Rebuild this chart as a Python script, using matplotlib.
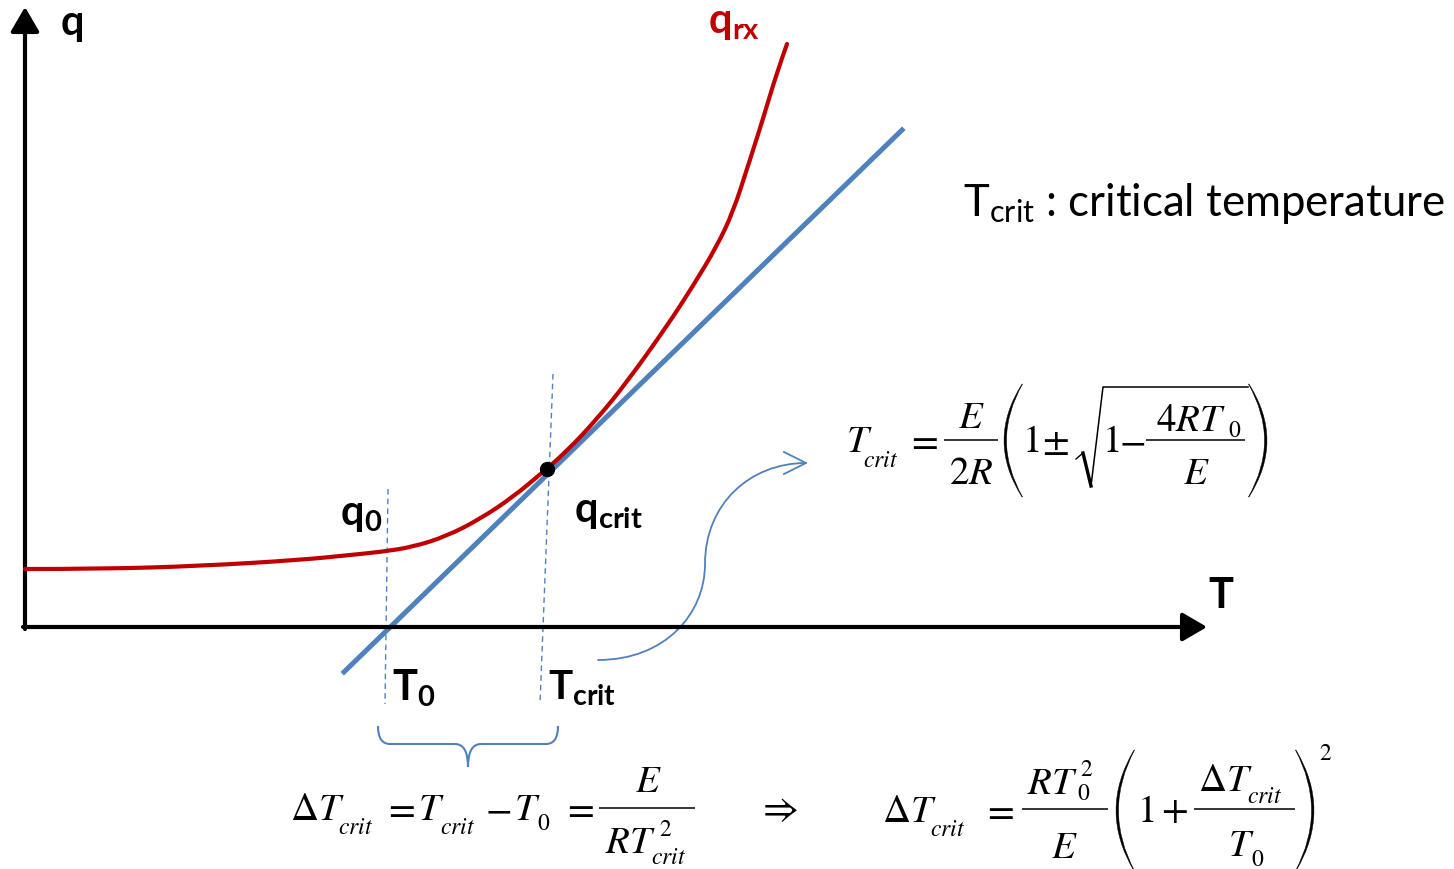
import numpy as np
import matplotlib.pyplot as plt
from matplotlib.path import Path
from matplotlib.patches import PathPatch, FancyArrowPatch

plt.rcParams['mathtext.fontset'] = 'custom'
plt.rcParams['mathtext.rm'] = 'Lato'
plt.rcParams['mathtext.it'] = 'Lato:italic'
plt.rcParams['mathtext.bf'] = 'Lato:bold'
plt.rcParams['font.family'] = 'Lato'

# heat generation curve q_rx(T), in drawing units (x right, y down)
red_T = [25, 100, 200, 300, 350, 380, 413, 447, 480, 513, 543, 567, 597,
         627, 667, 693, 717, 733, 747, 763, 777, 787]
red_q = [570, 570, 567, 561, 556, 553, 548, 537, 520, 498, 473, 452, 420,
         383, 327, 287, 247, 213, 170, 120, 73, 45]

# tangent (heat removal) line and critical point
tangent_T = [344, 902]
tangent_q = [673, 131]
crit_T, crit_q = 547, 470

# dashed guides at T0 and Tcrit
guide_T0 = ([388, 385], [490, 705])
guide_Tcrit = ([553, 540], [375, 705])

# axes extents
origin = (25, 628)
y_top = 8
x_right = 1207

RED = '#C00000'
BLUE = '#4F81BD'

fig = plt.figure(figsize=(14.54, 8.70), dpi=100)
ax = fig.add_axes([0, 0, 1, 1])
ax.set_xlim(0, 1454)
ax.set_ylim(870, 0)
ax.axis('off')


def smooth_path(xs, ys):
    # quadratic spline through the midpoints, using the points as controls
    pts = list(zip(xs, ys))
    verts = [pts[0]]
    codes = [Path.MOVETO]
    for i in range(1, len(pts) - 1):
        mid = ((pts[i][0] + pts[i + 1][0]) / 2, (pts[i][1] + pts[i + 1][1]) / 2)
        if i == len(pts) - 2:
            mid = pts[-1]
        verts += [pts[i], mid]
        codes += [Path.CURVE3, Path.CURVE3]
    return Path(verts, codes)


def tx(x, y, s, size=28, ha='left'):
    ax.text(x, y, '$' + s + '$', fontsize=size, math_fontfamily='stix',
            ha=ha, va='baseline', color='black')


def bar(x0, x1, y):
    ax.plot([x0, x1], [y, y], color='black', lw=1.1, solid_capstyle='butt')


def paren(x_end, x_mid, y0, y1, thick=2.2):
    # tall thin parenthesis as a filled crescent
    ym = (y0 + y1) / 2
    sgn = 1 if x_mid > x_end else -1
    c_out = x_end + 2 * (x_mid - x_end)
    c_in = c_out - sgn * 2 * thick
    verts = [(x_end, y0), (c_out, ym), (x_end, y1),
             (x_end - sgn * 0.6, y1), (c_in, ym), (x_end - sgn * 0.6, y0), (x_end, y0)]
    codes = [Path.MOVETO, Path.CURVE3, Path.CURVE3,
             Path.LINETO, Path.CURVE3, Path.CURVE3, Path.CLOSEPOLY]
    ax.add_patch(PathPatch(Path(verts, codes), facecolor='black', edgecolor='black', lw=0.3))


# coordinate axes with arrowheads
head = '-|>,head_length=0.6,head_width=0.35'
ax.annotate('', xy=(origin[0], y_top), xytext=(origin[0], origin[1] + 2),
            arrowprops=dict(arrowstyle=head, lw=3, color='black', mutation_scale=25,
                            shrinkA=0, shrinkB=0))
ax.annotate('', xy=(x_right, origin[1]), xytext=(origin[0] - 2, origin[1]),
            arrowprops=dict(arrowstyle=head, lw=3, color='black', mutation_scale=25,
                            shrinkA=0, shrinkB=0))

# curves
ax.add_patch(PathPatch(smooth_path(red_T, red_q), fill=False, edgecolor=RED, lw=3,
                       capstyle='round', zorder=3))
ax.plot(tangent_T, tangent_q, color=BLUE, lw=3.6, zorder=2)
ax.plot(*guide_T0, color=BLUE, lw=1, ls=(0, (4, 3)))
ax.plot(*guide_Tcrit, color=BLUE, lw=1, ls=(0, (4, 3)))
ax.plot(crit_T, crit_q, 'o', color='black', ms=10, zorder=4)

# bold labels
lab = dict(fontsize=30, fontweight='bold', color='black', va='baseline')
ax.text(60, 35, r'$\mathbf{q}$', **lab)
ax.text(1208, 608, r'$\mathbf{T}$', **lab)
ax.text(340, 525, r'$\mathbf{q}_{\mathbf{0}}$', **lab)
ax.text(574, 522, r'$\mathbf{q}_{\mathbf{crit}}$', **lab)
ax.text(392, 700, r'$\mathbf{T}_{\mathbf{0}}$', **lab)
ax.text(548, 700, r'$\mathbf{T}_{\mathbf{crit}}$', fontsize=29, fontweight='bold', va='baseline')
ax.text(708, 33, r'$\mathbf{q}_{\mathbf{rx}}$', fontsize=30, color=RED, va='baseline')

ax.text(963, 216, r'$\mathrm{T}_{\mathrm{crit}}$ : critical temperature', fontsize=31.5,
        va='baseline')

# curved pointer from Tcrit label to the formula
verts = [(598, 661), (665, 661), (705, 615), (705, 565),
         (705, 505), (750, 464), (808, 464)]
codes = [Path.MOVETO, Path.CURVE4, Path.CURVE4, Path.CURVE4,
         Path.CURVE4, Path.CURVE4, Path.CURVE4]
ax.add_patch(FancyArrowPatch(path=Path(verts, codes), arrowstyle='->,head_length=0.8,head_width=0.4',
                             mutation_scale=20, lw=1.3, color=BLUE))

# brace under the T0..Tcrit interval
bv = [(378, 727), (378, 745), (390, 745),
      (455, 745), (468, 745), (468, 768),
      (468, 745), (481, 745), (546, 745),
      (558, 745), (558, 727)]
bc = [Path.MOVETO, Path.CURVE3, Path.CURVE3,
      Path.LINETO, Path.CURVE3, Path.CURVE3,
      Path.CURVE3, Path.CURVE3, Path.LINETO,
      Path.CURVE3, Path.CURVE3]
ax.add_patch(PathPatch(Path(bv, bc), fill=False, edgecolor=BLUE, lw=1.5))

# Tcrit = E/2R (1 +- sqrt(1 - 4RT0/E))
tx(846, 452, 'T')
tx(863, 467, 'crit', 17)
tx(922, 452, '=', ha='center')
bar(944, 998, 441)
tx(971, 428, 'E', ha='center')
tx(971, 484, '2R', ha='center')
paren(1022, 1004, 385, 498)
tx(1031, 452, '1', ha='center')
tx(1055, 452, r'\pm', ha='center')
ax.plot([1076, 1083], [460, 454], color='black', lw=1.0)
ax.plot([1083, 1091], [454, 487], color='black', lw=2.4)
ax.plot([1091, 1103, 1248], [487, 388, 388], color='black', lw=1.1)
tx(1111, 452, '1', ha='center')
tx(1132, 452, '-', ha='center')
bar(1146, 1245, 441)
tx(1156, 431, '4RT')
tx(1228, 437, '0', 17)
tx(1196, 484, 'E', ha='center')
paren(1249, 1267, 385, 498)

# dT = Tcrit - T0 = E / (R Tcrit^2)
tx(290, 820, r'\Delta T')
tx(338, 834, 'crit', 17)
tx(399, 820, '=', ha='center')
tx(418, 820, 'T')
tx(440, 834, 'crit', 17)
tx(498, 820, '-', ha='center')
tx(514, 820, 'T')
tx(537, 830, '0', 17)
tx(578, 820, '=', ha='center')
bar(599, 695, 809)
tx(648, 792, 'E', ha='center')
tx(605, 853, 'RT')
tx(659, 836, '2', 17)
tx(651, 864, 'crit', 17)

tx(778, 820, r'\Rightarrow', ha='center')

# dT = R T0^2 / E (1 + dT/T0)^2
tx(882, 822, r'\Delta T')
tx(930, 836, 'crit', 17)
tx(998, 822, '=', ha='center')
bar(1022, 1108, 810)
tx(1027, 794, 'RT')
tx(1080, 776, '2', 17)
tx(1077, 800, '0', 17)
tx(1064, 858, 'E', ha='center')
paren(1134, 1116, 751, 872)
tx(1146, 822, '1', ha='center')
tx(1174, 822, '+', ha='center')
bar(1194, 1295, 810)
tx(1198, 791, r'\Delta T')
tx(1247, 803, 'crit', 17)
tx(1228, 856, 'T')
tx(1251, 866, '0', 17)
paren(1296, 1314, 751, 872)
tx(1319, 760, '2', 17)

fig.savefig('out.png', dpi=100)
